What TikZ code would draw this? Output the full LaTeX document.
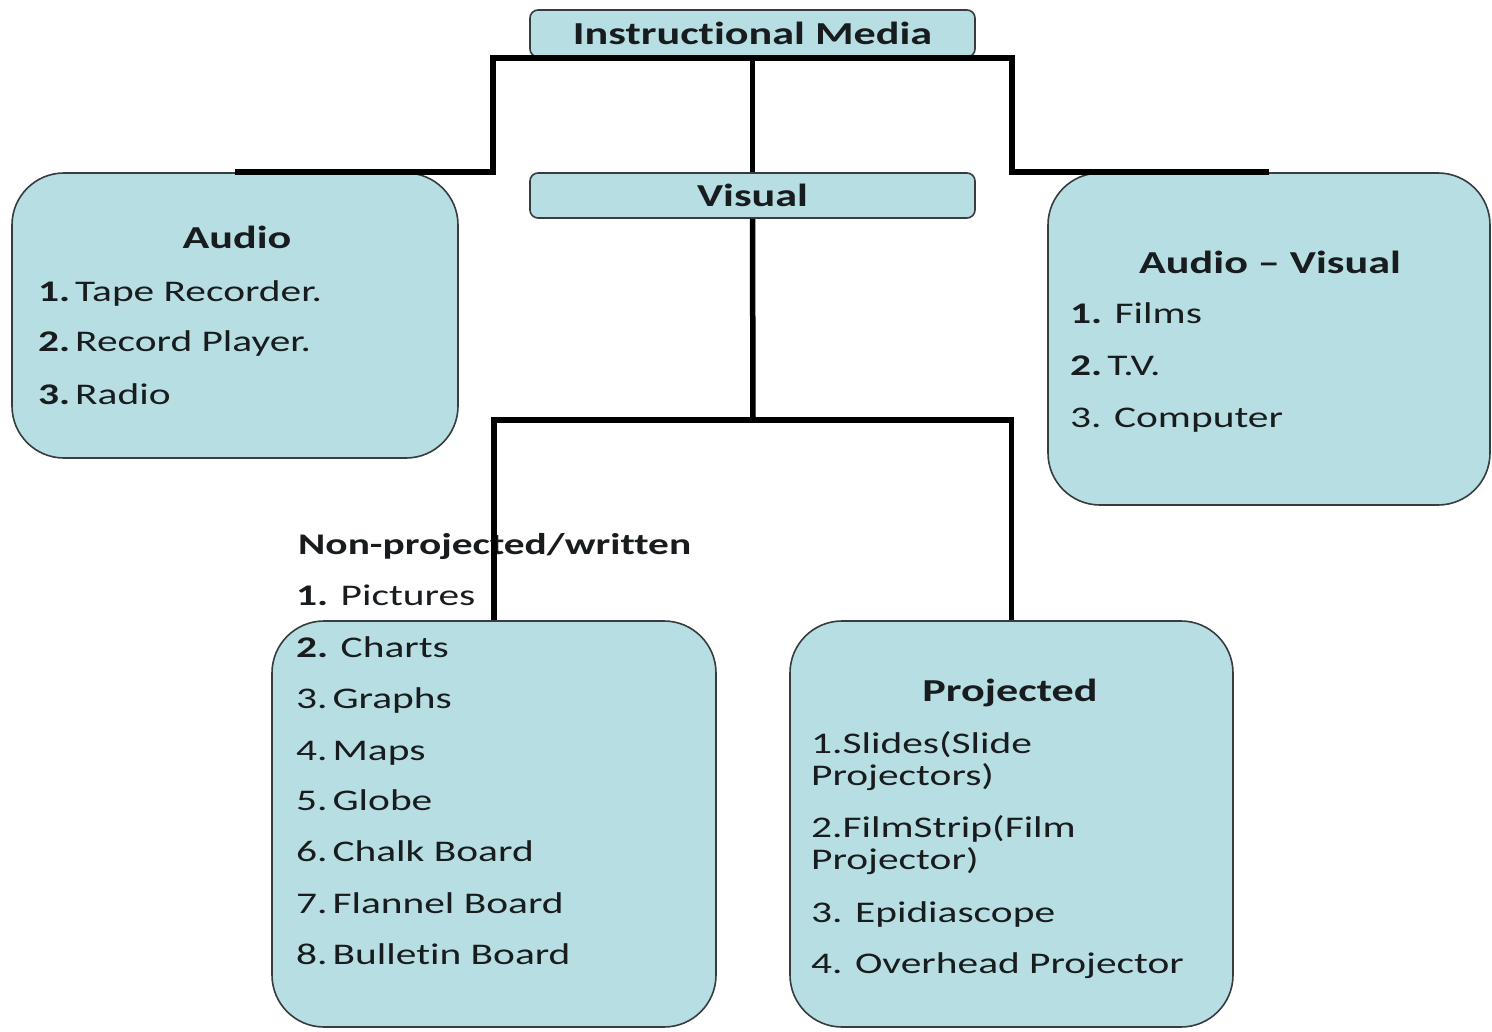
\documentclass[tikz,border=0pt]{standalone}
\usepackage{fontspec}
\setmainfont[FakeStretch=1.38,Ligatures=NoCommon]{Carlito}
\definecolor{boxfill}{RGB}{183,222,226}
\definecolor{boxline}{RGB}{55,60,62}
\definecolor{txt}{RGB}{25,28,30}
\tikzset{
  bigbox/.style={draw=boxline, line width=1.6pt, fill=boxfill, rounded corners=52pt, inner sep=0pt},
  smallbox/.style={draw=boxline, line width=1.6pt, fill=boxfill, rounded corners=8pt, inner sep=0pt,
    text=txt, font=\fontsize{32}{38}\selectfont\bfseries},
  item/.style={anchor=base west, inner sep=0pt, text=txt, font=\fontsize{30}{36}\selectfont},
  head/.style={anchor=base, inner sep=0pt, text=txt, font=\fontsize{32}{38}\selectfont\bfseries},
  headl/.style={anchor=base west, inner sep=0pt, text=txt, font=\fontsize{30}{36}\selectfont\bfseries},
  conn/.style={line width=5.5pt, black, line join=miter},
}
\begin{document}
\begin{tikzpicture}[x=1pt,y=-1pt]
\useasboundingbox[fill=white] (0,0) rectangle (1492,1032);
% boxes
\node[smallbox, minimum width=445pt, minimum height=47pt] (im) at (752.5,33.5) {Instructional Media};
\node[smallbox, minimum width=445pt, minimum height=45pt] (visual) at (752.5,195.5) {Visual};
\node[bigbox, minimum width=446pt, minimum height=285pt] (audio) at (235,315.5) {};
\node[bigbox, minimum width=442pt, minimum height=332pt] (av) at (1269,339) {};
\node[bigbox, minimum width=444pt, minimum height=406pt] (np) at (494,824) {};
\node[bigbox, minimum width=443pt, minimum height=406pt] (pj) at (1011.5,824) {};
% Audio
\node[head] (audioh) at (237,249) {Audio};
\node[item] (a1) at (38,302) {\textbf{1.}\,Tape Recorder.};
\node[item] (a2) at (38,352) {\textbf{2.}\,Record Player.};
\node[item] (a3) at (38,404) {\textbf{3.}\,Radio};
% Audio-Visual
\node[head] (avh) at (1270,274) {Audio – Visual};
\node[item] (v1) at (1070,324) {\textbf{1.} Films};
\node[item] (v2) at (1070,376) {\textbf{2.}\,T.V.};
\node[item] (v3) at (1070,427) {3. Computer};
% Non-projected
\node[headl] (nph) at (298,554) {Non-projected/written};
\node[item] (n1) at (296,605) {\textbf{1.} Pictures};
\node[item] (n2) at (296,657) {\textbf{2.} Charts};
\node[item] (n3) at (296,708) {3.\,Graphs};
\node[item] (n4) at (296,760) {4.\,Maps};
\node[item] (n5) at (296,810) {5.\,Globe};
\node[item] (n6) at (296,861) {6.\,Chalk Board};
\node[item] (n7) at (296,913) {7.\,Flannel Board};
\node[item] (n8) at (296,964) {8.\,Bulletin Board};
% Projected
\node[head] (pjh) at (1010,701) {Projected};
\node[item] (p1a) at (811,753) {1.Slides(Slide};
\node[item] (p1b) at (811,785) {Projectors)};
\node[item] (p2a) at (811,837) {2.FilmStrip(Film};
\node[item] (p2b) at (811,869) {Projector)};
\node[item] (p3) at (811,922) {3. Epidiascope};
\node[item] (p4) at (811,973) {4. Overhead Projector};
% connectors
\coordinate (jL) at (493,58);
\coordinate (jR) at (1012,58);
\coordinate (jC) at (753,420);
\draw[conn] (audio.north) -| (jL) -- (jR) |- (av.north);
\draw[conn] (im.south) -- (visual.north);
\draw[conn] (visual.south) -- (jC);
\draw[conn] (np.north) |- (jC) -| (pj.north);
\end{tikzpicture}
\end{document}
